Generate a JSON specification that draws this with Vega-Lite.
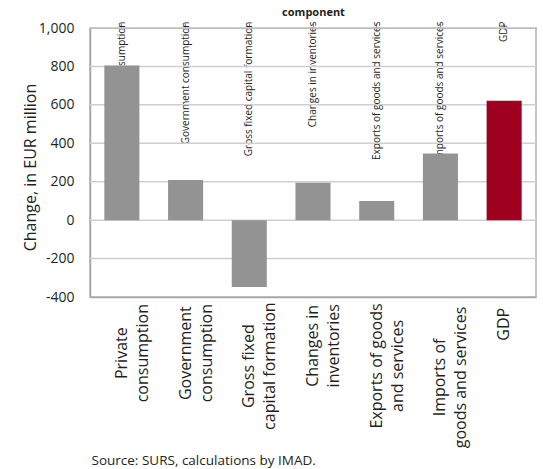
{
  "$schema": "https://vega.github.io/schema/vega-lite/v6.json",
  "width": 446,
  "height": 269,
  "autosize": {"type": "none"},
  "padding": {"left": 90, "top": 28, "right": 7, "bottom": 172},
  "background": "white",
  "datasets": {
    "components": [
      {"component": "Private consumption", "lines": ["Private", "consumption"], "change": 805, "kind": "Expenditure component"},
      {"component": "Government consumption", "lines": ["Government", "consumption"], "change": 209, "kind": "Expenditure component"},
      {"component": "Gross fixed capital formation", "lines": ["Gross fixed", "capital formation"], "change": -348, "kind": "Expenditure component"},
      {"component": "Changes in inventories", "lines": ["Changes in", "inventories"], "change": 195, "kind": "Expenditure component"},
      {"component": "Exports of goods and services", "lines": ["Exports of goods", "and services"], "change": 99, "kind": "Expenditure component"},
      {"component": "Imports of goods and services", "lines": ["Imports of", "goods and services"], "change": 347, "kind": "Expenditure component"},
      {"component": "GDP", "lines": ["GDP"], "change": 622, "kind": "GDP"}
    ],
    "gridlevels": [
      {"level": -200}, {"level": 0}, {"level": 200}, {"level": 400},
      {"level": 600}, {"level": 800}, {"level": 1000}
    ]
  },
  "layer": [
    {
      "data": {"name": "gridlevels"},
      "mark": {"type": "rule", "color": "#cfcfcf", "strokeWidth": 1.5},
      "encoding": {
        "y": {"field": "level", "type": "quantitative", "axis": null}
      }
    },
    {
      "data": {"name": "components"},
      "mark": {"type": "bar"},
      "encoding": {
        "x": {
          "field": "component",
          "type": "nominal",
          "sort": null,
          "scale": {"paddingInner": 0.45, "paddingOuter": 0.225},
          "axis": {
            "title": "Source: SURS, calculations by IMAD.",
            "titleAnchor": "start",
            "titleAlign": "left",
            "titleX": 1,
            "titleY": 167,
            "titleBaseline": "alphabetic",
            "titleFontSize": 13.5,
            "titleFontWeight": "normal",
            "labels": false,
            "ticks": false,
            "grid": false,
            "domainColor": "#a6a6a6",
            "domainWidth": 1.5
          }
        },
        "y": {
          "field": "change",
          "type": "quantitative",
          "scale": {"domain": [-400, 1000], "nice": false},
          "axis": {
            "title": "Change, in EUR million",
            "titleAngle": -90,
            "titleX": -55,
            "titleY": 139,
            "titleAlign": "center",
            "titleBaseline": "alphabetic",
            "titleFontSize": 16,
            "titleFontWeight": "normal",
            "values": [-400, -200, 0, 200, 400, 600, 800, 1000],
            "labelExpr": "replace(format(datum.value, ','), '\u2212', '-')",
            "labelFontSize": 14,
            "labelPadding": 16,
            "labelOverlap": false,
            "ticks": false,
            "grid": false,
            "domainColor": "#a6a6a6",
            "domainWidth": 1.5
          }
        },
        "color": {
          "field": "kind",
          "type": "nominal",
          "scale": {"domain": ["Expenditure component", "GDP"], "range": ["#939393", "#a0001f"]},
          "legend": null
        }
      }
    },
    {
      "data": {"name": "components"},
      "mark": {
        "type": "text",
        "angle": 270,
        "align": "center",
        "baseline": "middle",
        "font": "Open Sans",
        "fontSize": 16,
        "lineHeight": 21,
        "color": "#231f20",
        "dx": {"expr": "-(8 + 8*max(0.57*length(datum.lines[0]) - 0.3*length(replace(datum.lines[0], regexp('[^iltfrj ]', 'g'), '')) + 0.35*length(replace(datum.lines[0], regexp('[^mwGDM]', 'g'), '')), 0.57*length(datum.lines[1] || '') - 0.3*length(replace(datum.lines[1] || '', regexp('[^iltfrj ]', 'g'), '')) + 0.35*length(replace(datum.lines[1] || '', regexp('[^mwGDM]', 'g'), ''))))"}
      },
      "encoding": {
        "x": {"field": "component", "type": "nominal", "sort": null},
        "y": {"datum": -400, "axis": null},
        "text": {"field": "lines"}
      }
    }
  ],
  "resolve": {"axis": {"y": "independent", "x": "independent"}},
  "config": {
    "font": "Open Sans",
    "axis": {
      "labelFont": "Open Sans",
      "titleFont": "Open Sans",
      "labelColor": "#231f20",
      "titleColor": "#231f20"
    },
    "view": {"stroke": "#b3b3b3", "strokeWidth": 1.5}
  }
}
